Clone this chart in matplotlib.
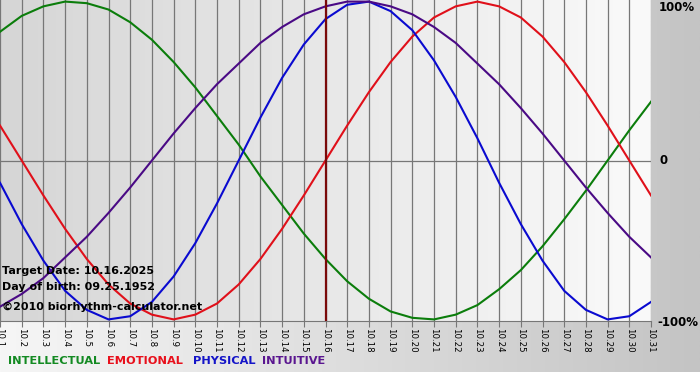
import numpy as np
import matplotlib
matplotlib.use('Agg')
import matplotlib.pyplot as plt

# days of October 2025 shown on the x axis
days = ['10.%d' % d for d in range(1, 32)]
target_idx = 15  # 10.16

# values, one per day (-1 .. 1)
intellectual = [0.81, 0.91, 0.97, 1.00, 0.99, 0.95, 0.87, 0.76, 0.62, 0.46,
                0.28, 0.10, -0.10, -0.28, -0.46, -0.62, -0.76, -0.87, -0.95, -0.99,
                -1.00, -0.97, -0.91, -0.81, -0.69, -0.54, -0.37, -0.19, 0.00, 0.19, 0.37]
emotional = [0.22, 0.00, -0.22, -0.43, -0.62, -0.78, -0.90, -0.97, -1.00, -0.97,
             -0.90, -0.78, -0.62, -0.43, -0.22, 0.00, 0.22, 0.43, 0.62, 0.78,
             0.90, 0.97, 1.00, 0.97, 0.90, 0.78, 0.62, 0.43, 0.22, 0.00, -0.22]
physical = [-0.14, -0.40, -0.63, -0.82, -0.94, -1.00, -0.98, -0.89, -0.73, -0.52,
            -0.27, 0.00, 0.27, 0.52, 0.73, 0.89, 0.98, 1.00, 0.94, 0.82,
            0.63, 0.40, 0.14, -0.14, -0.40, -0.63, -0.82, -0.94, -1.00, -0.98, -0.89]
intuitive = [-0.92, -0.84, -0.74, -0.61, -0.48, -0.33, -0.17, 0.00, 0.17, 0.33,
             0.48, 0.61, 0.74, 0.84, 0.92, 0.97, 1.00, 1.00, 0.97, 0.92,
             0.84, 0.74, 0.61, 0.48, 0.33, 0.17, 0.00, -0.17, -0.33, -0.48, -0.61]

series_names = ['INTELLECTUAL', 'EMOTIONAL', 'PHYSICAL', 'INTUITIVE']
line_colors = ['#0b7d0b', '#e0101a', '#0a0ad0', '#4a0a85']
legend_colors = ['#138a22', '#e8101c', '#1414c8', '#5a1690']

W, H = 700, 380
fig = plt.figure(figsize=(W / 100, H / 100), dpi=100)

# background gradient of the whole picture (white strip at the very bottom)
bg = fig.add_axes([0, 0, 1, 1])
bg.set_xlim(0, W)
bg.set_ylim(H, 0)
bg.axis('off')
grad = np.linspace(0, 1, 256).reshape(1, -1)
bg.imshow(grad, cmap=matplotlib.colors.LinearSegmentedColormap.from_list('o', ['#f6f6f6', '#c4c4c4']),
          extent=[0, W, 372, 0], aspect='auto')
bg.imshow(np.zeros((1, 2)), cmap='Greys', vmin=0, vmax=1, extent=[0, W, H, 372], aspect='auto')

pw, ph = 651, 321
ax = fig.add_axes([0, 1 - ph / H, pw / W, ph / H])
ax.set_xlim(0, 30)
ax.set_ylim(-1.01, 1.01)
ax.imshow(grad, cmap=matplotlib.colors.LinearSegmentedColormap.from_list('p', ['#d6d6d6', '#fafafa']),
          extent=[0, 30, -1.01, 1.01], aspect='auto', zorder=0)

x = np.arange(len(days))
for i in x:
    ax.axvline(i, color='#777777', lw=0.9, zorder=1)
ax.axhline(0, color='#777777', lw=0.9, zorder=1)

ax.plot(x, intellectual, color=line_colors[0], lw=1.5, zorder=3)
ax.plot(x, emotional, color=line_colors[1], lw=1.5, zorder=3)
ax.plot(x, physical, color=line_colors[2], lw=1.5, zorder=3)
ax.plot(x, intuitive, color=line_colors[3], lw=1.5, zorder=3)
ax.axvline(target_idx, color='#7a0a0a', lw=1.6, zorder=4)

for s in ['top', 'left', 'right']:
    ax.spines[s].set_visible(False)
ax.spines['bottom'].set_color('#777777')
ax.set_xticks(x)
ax.set_xticklabels(days, rotation=270, fontsize=6.2)
ax.tick_params(axis='x', length=4, color='#777777', pad=1)
ax.set_yticks([])

# texts on the right side
fig.text(659 / W, 1 - 1 / H, '100%', fontsize=8.5, fontweight='bold', va='top', ha='left')
fig.text(659 / W, 1 - 161 / H, '0', fontsize=8.5, fontweight='bold', va='center', ha='left')
fig.text(657 / W, 1 - 322 / H, '-100%', fontsize=8.5, fontweight='bold', va='center', ha='left')

# info text in lower left
fig.text(2 / W, 1 - 271 / H, 'Target Date: 10.16.2025', fontsize=8, fontweight='bold', va='center')
fig.text(2 / W, 1 - 287 / H, 'Day of birth: 09.25.1952', fontsize=8, fontweight='bold', va='center')
fig.text(2 / W, 1 - 307 / H, '\u00a92010 biorhythm-calculator.net', fontsize=8, fontweight='bold', va='center')

# coloured legend
xpos = [8, 107, 193, 262]
for name, col, xp in zip(series_names, legend_colors, xpos):
    fig.text(xp / W, 1 - 361 / H, name, fontsize=8.2, fontweight='bold', color=col, va='center')

fig.savefig('out.png', dpi=100)
